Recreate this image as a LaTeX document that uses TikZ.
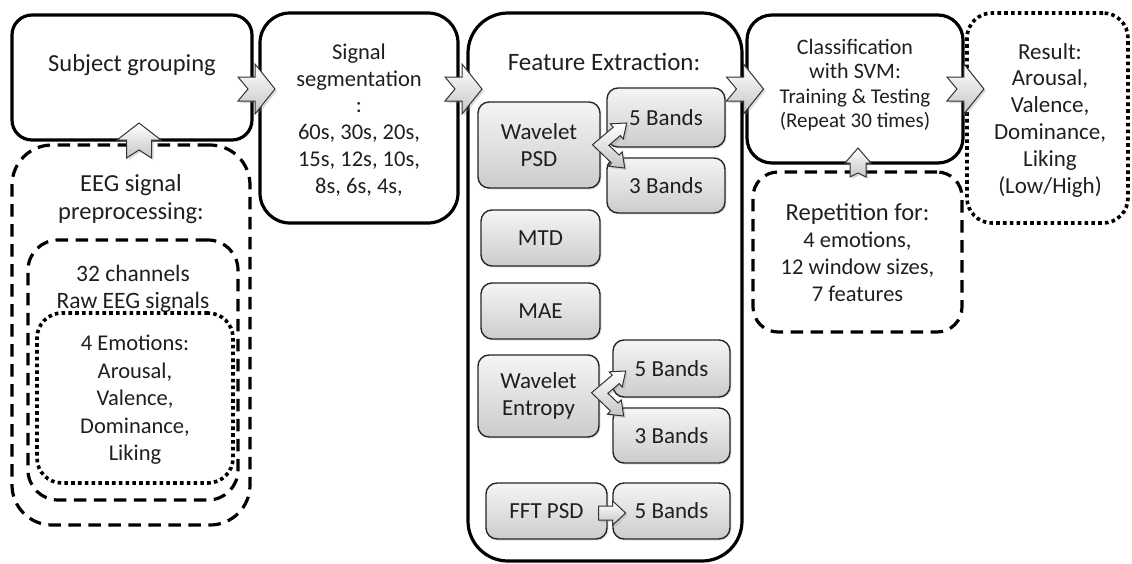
\documentclass[tikz,border=0pt]{standalone}
\usepackage{fontspec}
\setmainfont{Carlito}
\usetikzlibrary{shadows,calc}

\newcommand{\fs}[2]{\fontsize{#1}{#2}\selectfont}

\tikzset{
  % text styles
  txt/.style={align=center, text=black!88, font=\fs{22}{27}, inner sep=0pt},
  % outline boxes
  boxbase/.style={draw=black, line width=3.2pt, inner sep=0pt, fill=none},
  solidbox/.style={boxbase, rounded corners=#1},
  solidbox/.default=25pt,
  dashbox/.style={boxbase, rounded corners=#1, dash pattern=on 12.5pt off 7.5pt},
  dashbox/.default=30pt,
  dotbox/.style={boxbase, rounded corners=#1, line width=3.6pt, dash pattern=on 3.6pt off 3.2pt},
  dotbox/.default=25pt,
  % shaded feature boxes
  graybox/.style={draw=black!85, line width=1.4pt, rounded corners=11pt,
    top color=gray!8, bottom color=gray!40, inner sep=0pt,
    drop shadow={opacity=0.22, shadow xshift=1.5pt, shadow yshift=-1.5pt}},
  graytxt/.style={txt, font=\fs{23}{27}},
  % block arrows
  arrowfill/.style={draw=black!80, line width=1pt, top color=white, bottom color=gray!45,
    drop shadow={opacity=0.28, shadow xshift=2pt, shadow yshift=-2pt}},
  chev/.pic={\path[arrowfill] (-18,-12) -- (-1,-12) -- (-1,-25) -- (19,0) -- (-1,25)
      -- (-1,12) -- (-18,12) -- (-8,0) -- cycle;},
  bigup/.pic={\path[arrowfill] (0,-18) -- (22,-1) -- (12.5,-1) -- (12.5,17) -- (0,9)
      -- (-12.5,17) -- (-12.5,-1) -- (-22,-1) -- cycle;},
  smallup/.pic={\path[arrowfill] (0,-15) -- (13,0) -- (8,0) -- (8,14) -- (0,10)
      -- (-8,14) -- (-8,0) -- (-13,0) -- cycle;},
  fork/.pic={\path[arrowfill] (-8.2,-0.25) -- (12.5,-17.8) -- (9.6,-21.2) -- (26,-22)
      -- (22.5,-6) -- (19.6,-9.4) -- (8.2,0.25) -- (18.4,10) -- (21.5,6.8) -- (24,23)
      -- (7.7,21.2) -- (10.8,18) -- cycle;},
  rightarr/.pic={\path[arrowfill] (-9,-7) -- (5,-7) -- (5,-12) -- (18,0) -- (5,12)
      -- (5,7) -- (-9,7) -- cycle;},
}

\begin{document}
\begin{tikzpicture}[x=1pt, y=-1pt]
\useasboundingbox (0,0) rectangle (1132,563);

% ---- left column: grouping and preprocessing
\node[solidbox=20pt, minimum width=240pt, minimum height=125pt] (subj) at (132,77.5) {};
\node[txt, font=\fs{24.5}{28}] (subjT) at (132,65) {Subject grouping};

\node[dashbox=40pt, minimum width=238pt, minimum height=380pt] (eeg) at (131,335) {};
\node[txt, font=\fs{24.5}{28}] (eegT) at (131,199) {EEG signal\\preprocessing:};
\node[dashbox=30pt, minimum width=210pt, minimum height=260pt] (raw) at (133,370) {};
\node[txt, font=\fs{23.5}{27}] (rawT) at (133,288.5) {32 channels\\Raw EEG signals};
\node[dotbox=25pt, minimum width=196pt, minimum height=170pt] (emo) at (135,398) {};
\node[txt, font=\fs{22.5}{27.5}] (emoT) at (135,400) {4 Emotions:\\Arousal,\\Valence,\\Dominance,\\Liking};

% ---- segmentation
\node[solidbox=30pt, minimum width=198pt, minimum height=210pt] (seg) at (359,118) {};
\node[txt, font=\fs{22.5}{26.8}] (segT) at (359,120) {Signal\\segmentation\\:\\60s, 30s, 20s,\\15s, 12s, 10s,\\8s, 6s, 4s,};

% ---- feature extraction
\node[solidbox=40pt, minimum width=274pt, minimum height=548pt] (feat) at (605,287) {};
\node[txt, font=\fs{25}{28}] (featT) at (604,62) {Feature Extraction:};

\node[graybox, minimum width=122pt, minimum height=86pt] (wpsd) at (539,145) {};
\node[graytxt] at (wpsd) {Wavelet\\PSD};
\node[graybox, minimum width=118pt, minimum height=59pt] (b5a) at (666,117.5) {};
\node[graytxt] at (b5a) {5 Bands};
\node[graybox, minimum width=118pt, minimum height=55pt] (b3a) at (666,185.5) {};
\node[graytxt] at (b3a) {3 Bands};
\node[graybox, minimum width=119pt, minimum height=56pt] (mtd) at (540.5,238) {};
\node[graytxt] at (mtd) {MTD};
\node[graybox, minimum width=119pt, minimum height=56pt] (mae) at (540.5,311) {};
\node[graytxt] at (mae) {MAE};
\node[graybox, minimum width=121pt, minimum height=82pt] (went) at (538.5,396) {};
\node[graytxt] at (went) {Wavelet\\Entropy};
\node[graybox, minimum width=117pt, minimum height=57pt] (b5b) at (671.5,368.5) {};
\node[graytxt] at (b5b) {5 Bands};
\node[graybox, minimum width=117pt, minimum height=55pt] (b3b) at (671.5,435.5) {};
\node[graytxt] at (b3b) {3 Bands};
\node[graybox, minimum width=121pt, minimum height=56pt] (fft) at (546.5,511) {};
\node[graytxt] at (fft) {FFT PSD};
\node[graybox, minimum width=117pt, minimum height=56pt] (b5c) at (671.5,511) {};
\node[graytxt] at (b5c) {5 Bands};

\pic at (wpsd.east) {fork};
\pic at ([yshift=3pt]went.east) {fork};
\pic at ([yshift=-2pt]fft.east) {rightarr};

% ---- classification, repetition and result
\node[solidbox=25pt, minimum width=216pt, minimum height=148pt] (cls) at (855,89) {};
\node[txt, font=\fs{22}{24.5}] (clsT) at (855,85) {Classification\\with SVM:\\{\fs{21}{24.5}Training \& Testing}\\{\fs{21}{24.5}(Repeat 30 times)}};
\node[dashbox=25pt, minimum width=209pt, minimum height=160pt] (rep) at (857.5,252) {};
\node[txt, font=\fs{24.5}{27}] (repT) at (857.5,253) {Repetition for:\\{\fs{22.5}{27}4 emotions,}\\{\fs{22.5}{27}12 window sizes,}\\{\fs{22.5}{27}7 features}};
\node[dotbox=25pt, minimum width=161pt, minimum height=210pt] (res) at (1047.5,118) {};
\node[txt, font=\fs{23}{26.8}] (resT) at (1050,120) {Result:\\Arousal,\\Valence,\\Dominance,\\Liking\\(Low/High)};

% ---- block arrows between the stages
\coordinate (lane) at (0,89);
\coordinate (m1) at ($(subj.east)!0.5!(seg.west)$);
\coordinate (m2) at ($(seg.east)!0.5!(feat.west)$);
\coordinate (m3) at ($(feat.east)!0.5!(cls.west)$);
\coordinate (m4) at ($(cls.east)!0.5!(res.west)$);
\pic at (m1 |- lane) {chev};
\pic at (m2 |- lane) {chev};
\pic at (m3 |- lane) {chev};
\pic at (m4 |- lane) {chev};
\pic at (139,141) {bigup};
\pic at (858,163) {smallup};
\end{tikzpicture}
\end{document}
